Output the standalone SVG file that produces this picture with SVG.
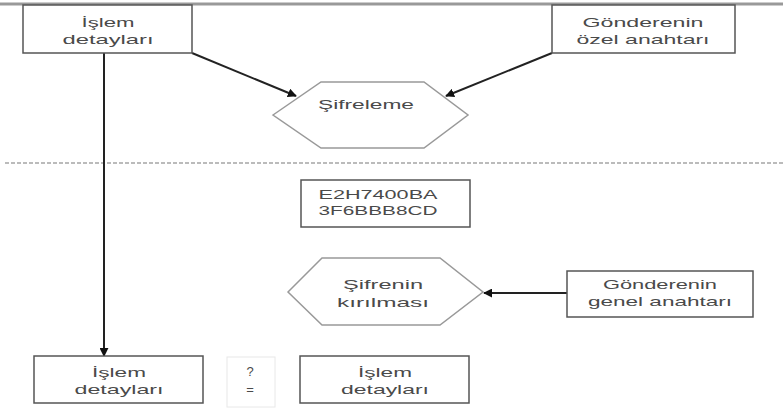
<svg xmlns="http://www.w3.org/2000/svg" width="783" height="410" viewBox="0 0 783 410">
<defs>
<style>
.box{fill:#fff;stroke:#555;stroke-width:1.5}
.hex{fill:#fff;stroke:#999;stroke-width:1.5}
.t{font-family:"Liberation Sans",Arial,sans-serif;font-size:13px;fill:#4a4a4a;text-anchor:middle}
.con{stroke:#222;stroke-width:2;fill:none}
</style>
<marker id="ah" viewBox="0 0 10 10" refX="9" refY="5" markerWidth="4.5" markerHeight="4.5" orient="auto"><path d="M0,0 L10,5 L0,10 z" fill="#111"/></marker>
</defs>
<rect width="783" height="410" fill="#fff"/>
<line x1="0" y1="4" x2="783" y2="4" stroke="#999" stroke-width="3"/>
<line x1="5" y1="163" x2="783" y2="163" stroke="#bbb" stroke-width="2" stroke-dasharray="4 2"/>
<g id="connectors">
<line class="con" x1="192" y1="53" x2="296" y2="96" marker-end="url(#ah)"/>
<line class="con" x1="552" y1="53" x2="446" y2="96" marker-end="url(#ah)"/>
<line class="con" x1="104" y1="53" x2="104" y2="356" marker-end="url(#ah)"/>
<line class="con" x1="567" y1="293" x2="484" y2="293" stroke-width="1.5" marker-end="url(#ah)"/>
</g>
<g id="islem1">
<rect class="box" x="23" y="5" width="169" height="48"/>
<text class="t" x="108" y="27" textLength="53" lengthAdjust="spacingAndGlyphs">İşlem</text>
<text class="t" x="108" y="44" textLength="91" lengthAdjust="spacingAndGlyphs">detayları</text>
</g>
<g id="ozel">
<rect class="box" x="552" y="5" width="183" height="48"/>
<text class="t" x="643" y="27" textLength="121" lengthAdjust="spacingAndGlyphs">Gönderenin</text>
<text class="t" x="643" y="44" textLength="133" lengthAdjust="spacingAndGlyphs">özel anahtarı</text>
</g>
<g id="sifreleme">
<polygon class="hex" points="273,115 321,82 424,82 468,115 424,148 321,148"/>
<text class="t" x="366" y="109" textLength="96" lengthAdjust="spacingAndGlyphs">Şifreleme</text>
</g>
<g id="cipher">
<rect class="box" x="301" y="180" width="169" height="47"/>
<text class="t" x="378" y="199" textLength="119" lengthAdjust="spacingAndGlyphs">E2H7400BA</text>
<text class="t" x="378" y="215" textLength="119" lengthAdjust="spacingAndGlyphs">3F6BBB8CD</text>
</g>
<g id="kirilma">
<polygon class="hex" points="288,292 322,258 440,258 483,292 440,325 322,325"/>
<text class="t" x="383" y="289" textLength="80" lengthAdjust="spacingAndGlyphs">Şifrenin</text>
<text class="t" x="383" y="307" textLength="92" lengthAdjust="spacingAndGlyphs">kırılması</text>
</g>
<g id="genel">
<rect class="box" x="567" y="271" width="186" height="46"/>
<text class="t" x="660" y="289" textLength="114" lengthAdjust="spacingAndGlyphs">Gönderenin</text>
<text class="t" x="660" y="306" textLength="144" lengthAdjust="spacingAndGlyphs">genel anahtarı</text>
</g>
<g id="islem2">
<rect class="box" x="34" y="356" width="169" height="47"/>
<text class="t" x="119" y="377" textLength="54" lengthAdjust="spacingAndGlyphs">İşlem</text>
<text class="t" x="119" y="394" textLength="89" lengthAdjust="spacingAndGlyphs">detayları</text>
</g>
<g id="esit">
<rect x="227" y="357" width="48" height="50" fill="#fff" stroke="#e8e8e8" stroke-width="1"/>
<text class="t" x="250" y="376">?</text>
<text class="t" x="250" y="394">=</text>
</g>
<g id="islem3">
<rect class="box" x="300" y="356" width="169" height="47"/>
<text class="t" x="385" y="377" textLength="54" lengthAdjust="spacingAndGlyphs">İşlem</text>
<text class="t" x="385" y="394" textLength="88" lengthAdjust="spacingAndGlyphs">detayları</text>
</g>
</svg>
